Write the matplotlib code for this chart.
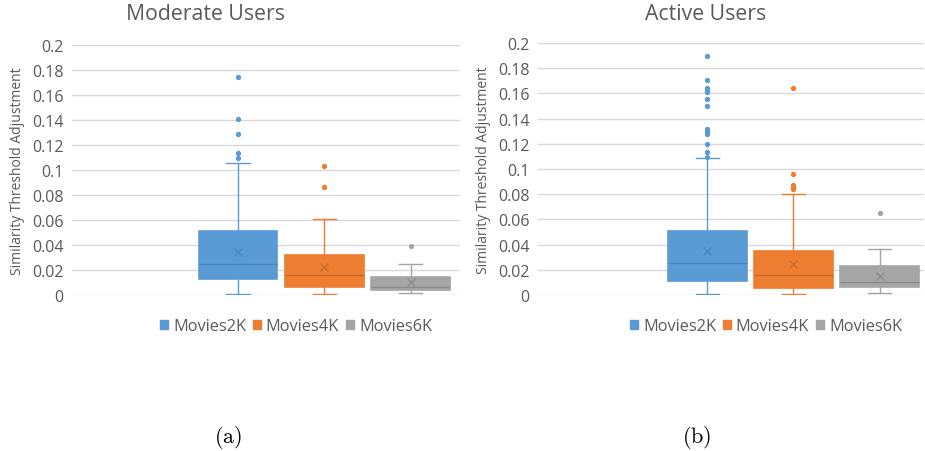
import matplotlib
matplotlib.use("Agg")
import matplotlib.pyplot as plt
from matplotlib.patches import Patch

series = ["Movies2K", "Movies4K", "Movies6K"]
colors = ["#5B9BD5", "#ED7D31", "#A5A5A5"]
dark = ["#4A86BE", "#C8692A", "#8C8C8C"]

# Moderate users
mod_q1 = [0.0131, 0.0064, 0.0043]
mod_med = [0.0250, 0.0163, 0.0067]
mod_q3 = [0.0515, 0.0323, 0.0147]
mod_mean = [0.0344, 0.0221, 0.0107]
mod_wlo = [0.0008, 0.0008, 0.0019]
mod_whi = [0.1056, 0.0605, 0.0250]
mod_fl = [[0.174, 0.1405, 0.1288, 0.1136, 0.1093], [0.1032, 0.0861], [0.0392]]

# Active users
act_q1 = [0.0108, 0.0053, 0.0061]
act_med = [0.0251, 0.0159, 0.0106]
act_q3 = [0.0505, 0.0349, 0.0228]
act_mean = [0.0349, 0.0246, 0.0153]
act_wlo = [0.0005, 0.0005, 0.0019]
act_whi = [0.1087, 0.0804, 0.0368]
act_fl = [[0.1894, 0.1704, 0.1646, 0.1627, 0.1611, 0.1558, 0.1503, 0.1317, 0.1299,
           0.1280, 0.1201, 0.1135, 0.1095],
          [0.1643, 0.0963, 0.0876, 0.0857, 0.0839],
          [0.0651]]

yticks = [0, 0.02, 0.04, 0.06, 0.08, 0.1, 0.12, 0.14, 0.16, 0.18, 0.2]
ytick_labels = ["0", "0.02", "0.04", "0.06", "0.08", "0.1", "0.12", "0.14", "0.16", "0.18", "0.2"]

titles = ["Moderate Users", "Active Users"]
captions = ["(a)", "(b)"]
ylabel = "Similarity Threshold Adjustment"

plt.rcParams['font.family'] = ['Open Sans', 'DejaVu Sans']
plt.rcParams['mathtext.fontset'] = 'cm'
textc = "#595959"

fig = plt.figure(figsize=(9.25, 4.52), dpi=100)

def draw(ax, q1, med, q3, mean, wlo, whi, fl, xlim):
    positions = [2, 3, 4]
    for i in range(3):
        st = [dict(med=med[i], q1=q1[i], q3=q3[i], mean=mean[i], whislo=wlo[i],
                   whishi=whi[i], fliers=fl[i])]
        ax.bxp(st, positions=[positions[i]], widths=0.91, capwidths=[0.27],
               showmeans=True, patch_artist=True,
               boxprops=dict(facecolor=colors[i], edgecolor=colors[i], linewidth=1.2),
               whiskerprops=dict(color=colors[i], linewidth=1.0),
               capprops=dict(color=colors[i], linewidth=1.0),
               medianprops=dict(color=dark[i], linewidth=1.0),
               meanprops=dict(marker='x', markeredgecolor=dark[i], markersize=6,
                              markeredgewidth=0.9),
               flierprops=dict(marker='o', markerfacecolor=colors[i],
                               markeredgecolor=colors[i], markersize=2.8))
    ax.set_xlim(*xlim)
    ax.set_ylim(0, 0.2)
    ax.set_yticks(yticks)
    ax.set_yticklabels(ytick_labels)
    ax.set_xticks([])
    ax.grid(axis='y', color='#D9D9D9', linewidth=1.0)
    ax.set_axisbelow(True)
    for s in ax.spines.values():
        s.set_visible(False)
    ax.tick_params(axis='y', length=0, labelsize=11.5, labelcolor=textc, pad=6)
    ax.set_ylabel(ylabel, fontsize=10, color=textc, labelpad=5)

ax1 = fig.add_axes([0.0778, 0.3451, 0.4195, 0.5538])
draw(ax1, mod_q1, mod_med, mod_q3, mod_mean, mod_wlo, mod_whi, mod_fl, (0.08, 4.57))
ax2 = fig.add_axes([0.5813, 0.3451, 0.4180, 0.5575])
draw(ax2, act_q1, act_med, act_q3, act_mean, act_wlo, act_whi, act_fl, (0.03, 4.52))

fig.text(206 / 925, 1 - 15 / 452, titles[0], ha='center', va='center', fontsize=15.3, color=textc)
fig.text(706 / 925, 1 - 14 / 452, titles[1], ha='center', va='center', fontsize=15.3, color=textc)

handles = [Patch(facecolor=c, edgecolor=c) for c in colors]
for cx in [296 / 925, 766 / 925]:
    fig.legend(handles, series, loc='center', bbox_to_anchor=(cx, 1 - 327 / 452),
               ncol=3, frameon=False, fontsize=11.8, handlelength=0.5, handleheight=0.5,
               handletextpad=0.3, columnspacing=0.4, labelcolor=textc)

fig.text(228 / 925, 1 - 438 / 452, r"$\mathrm{(a)}$", ha='center', va='center', fontsize=16)
fig.text(697 / 925, 1 - 438 / 452, r"$\mathrm{(b)}$", ha='center', va='center', fontsize=16)

fig.savefig("out.png", dpi=100)
